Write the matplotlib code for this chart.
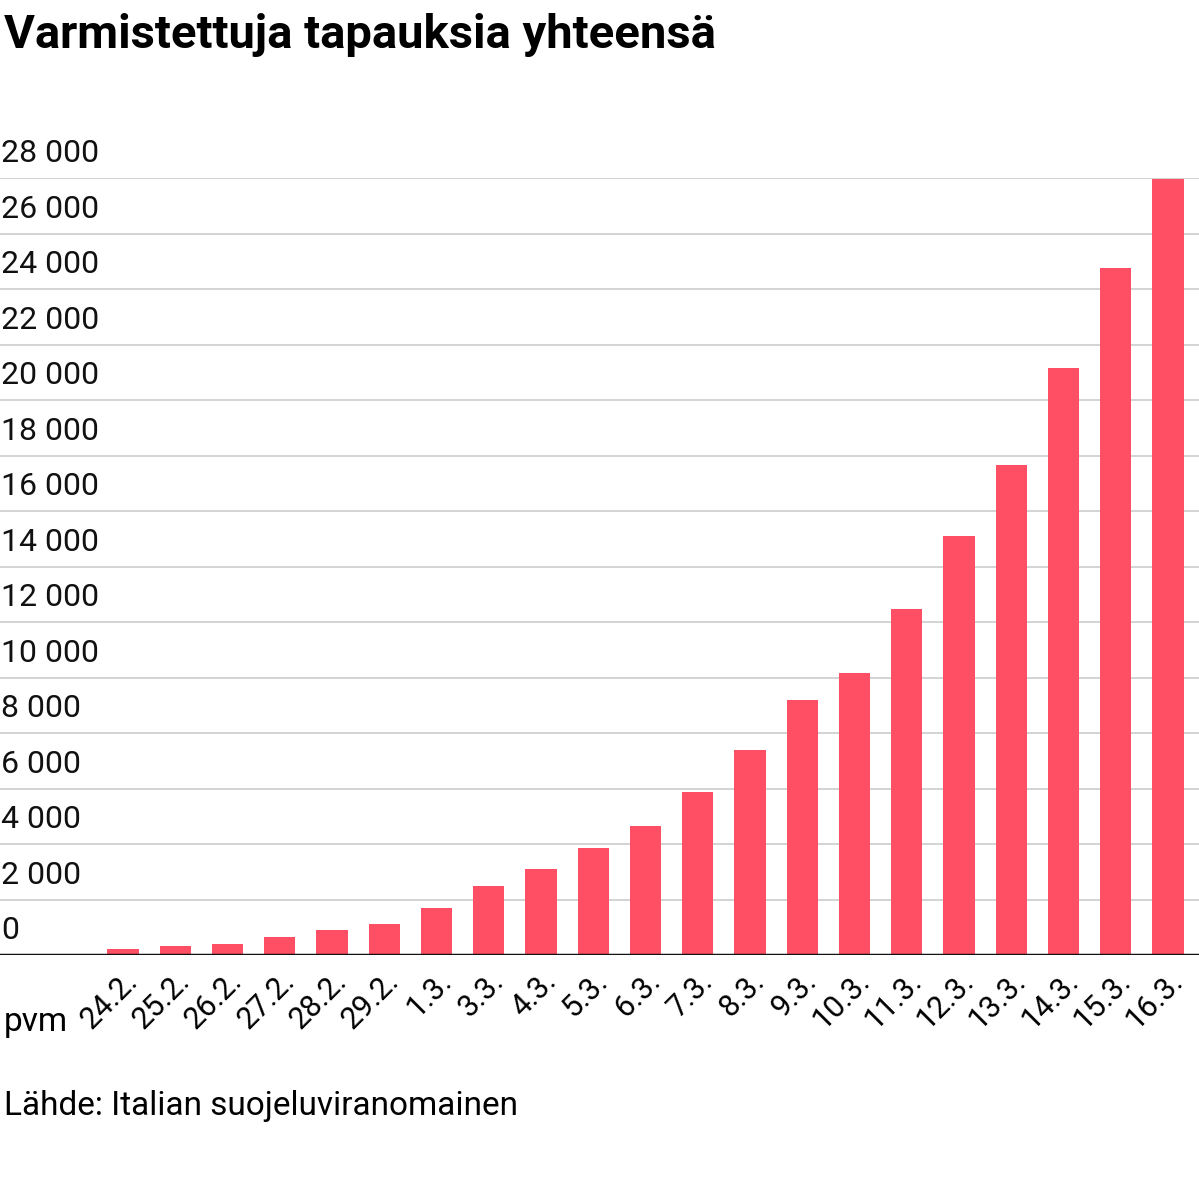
import matplotlib
matplotlib.use("Agg")
import matplotlib.pyplot as plt

dates = ["24.2.","25.2.","26.2.","27.2.","28.2.","29.2.","1.3.","3.3.","4.3.","5.3.","6.3.","7.3.","8.3.","9.3.","10.3.","11.3.","12.3.","13.3.","14.3.","15.3.","16.3."]
cases = [229,322,400,650,888,1128,1694,2502,3089,3858,4636,5883,7375,9172,10149,12462,15113,17660,21157,24747,27980]
yticks = list(range(0, 28001, 2000))

plt.rcParams["font.family"] = "Roboto"
fig = plt.figure(figsize=(11.99, 11.90), dpi=100)
ax = fig.add_axes([0, 1-955/1190, 1, (955-178)/1190])
x = list(range(len(dates)))
ax.bar(x, cases, width=0.6, color="#ff4f64", zorder=3)
ax.set_xlim(-123/52.25, 20 + 31/52.25)
ax.set_ylim(0, 28000)
for v in yticks:
    ax.axhline(v, color="#cccccc", lw=1.2, zorder=1)
    ax.text(0.001, v + 350, f"{v:,}".replace(",", " "), transform=ax.get_yaxis_transform(),
            fontsize=23, va="bottom", ha="left", color="#111111")
ax.axhline(0, color="#111111", lw=2.5, zorder=4)
for s in ax.spines.values():
    s.set_visible(False)
ax.set_yticks([])
ax.set_xticks(x)
ax.set_xticklabels(dates, rotation=45, ha="right", rotation_mode="anchor", fontsize=22)
ax.tick_params(axis="x", length=0, pad=8)
fig.text(0.003, 1-1022/1190, "pvm", fontsize=24, va="center", ha="left")
fig.text(0.003, 1-35/1190, "Varmistettuja tapauksia yhteensä", fontsize=34, fontweight="bold", va="center", ha="left")
fig.text(0.003, 1-1106/1190, "Lähde: Italian suojeluviranomainen", fontsize=24, va="center", ha="left")
fig.savefig("out.png", dpi=100)
